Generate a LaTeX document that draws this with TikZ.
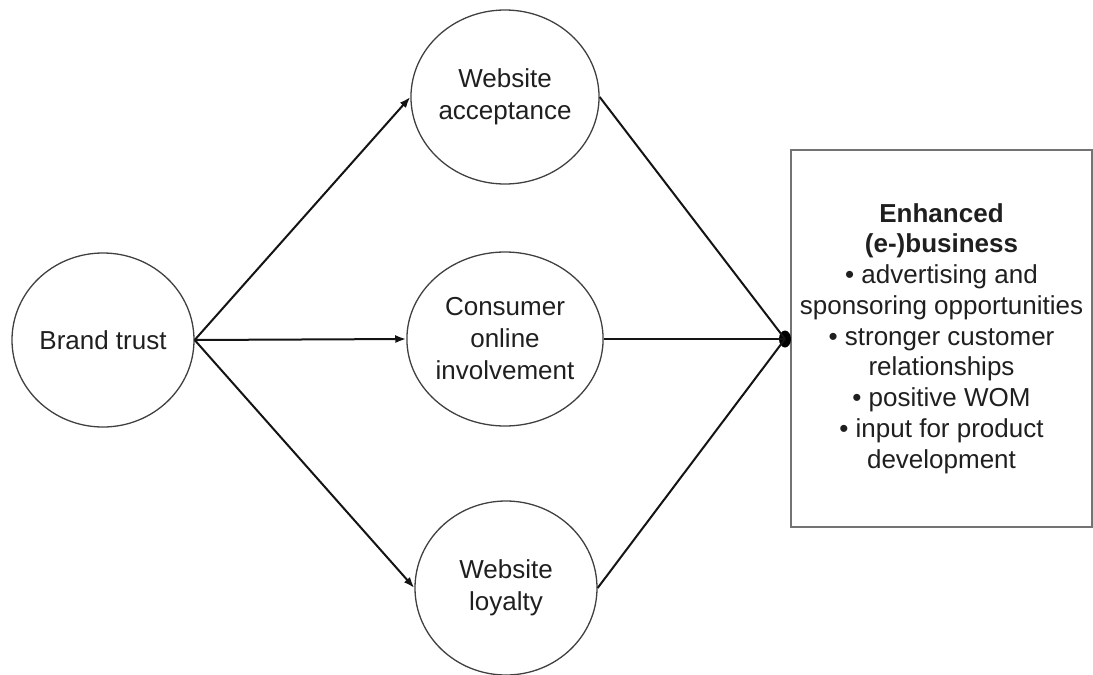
\documentclass[tikz,border=0pt]{standalone}
\usepackage{fontspec}
\setmainfont{Liberation Sans}
\usetikzlibrary{arrows.meta,shapes.geometric}
\begin{document}
\begin{tikzpicture}[x=1pt,y=-1pt,
  construct/.style={ellipse, draw=black!75, line width=1.3pt, minimum width=182pt,
    minimum height=174pt, inner sep=0pt, align=center, text=black!88,
    font=\fontsize{26}{32}\selectfont},
  outcome/.style={rectangle, draw=black!55, line width=1.5pt, minimum width=301pt,
    minimum height=377pt, inner sep=0pt, align=center, text=black!88,
    font=\fontsize{26}{30.75}\selectfont},
  hubdot/.style={ellipse, fill=black, minimum width=12pt, minimum height=17pt, inner sep=0pt},
  link/.style={line width=2pt, draw=black!92},
  arr/.style={link, -{Latex[length=11pt,width=8pt]}}]
  \useasboundingbox (0,0) rectangle (1093,675);

  % constructs
  \node[construct] (bt) at (103,340) {Brand trust};
  \node[construct] (wa) at (505,97)  {Website\\acceptance};
  \node[construct] (ci) at (505,339) {Consumer\\online\\involvement};
  \node[construct] (wl) at (506,588) {Website\\loyalty};

  % outcome box
  \node[outcome] (eb) at (941.5,338.5)
    {\textbf{Enhanced}\\\textbf{(e-)business}\\• advertising and\\sponsoring opportunities\\
     • stronger customer\\relationships\\• positive WOM\\• input for product\\development};

  % junction at the box edge
  \node[hubdot] (hub) at (785,339) {};

  % arrows from brand trust
  \draw[arr] (bt.east) -- (wa.west);
  \draw[arr] (bt.east) -- (ci.west);
  \draw[arr] (bt.east) -- (wl.west);

  % lines into the junction
  \draw[link] (wa.east) -- (hub.center);
  \draw[link] (ci.east) -- (hub.center);
  \draw[link] (wl.east) -- (hub.center);
\end{tikzpicture}
\end{document}
